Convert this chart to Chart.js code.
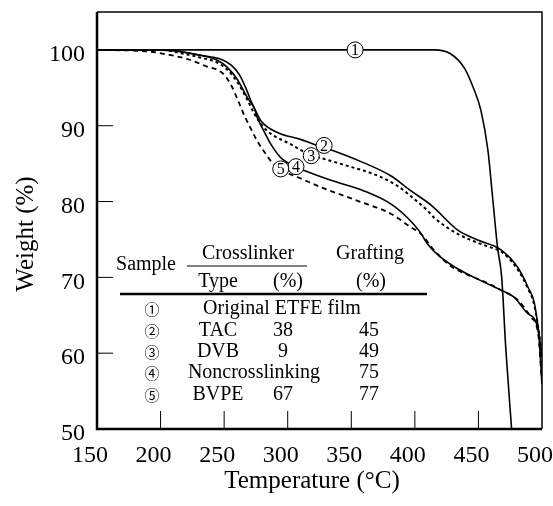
<!DOCTYPE html>
<html>
<head>
<meta charset="utf-8">
<script src="https://cdn.jsdelivr.net/npm/chart.js@4.4.1/dist/chart.umd.min.js"></script>
<style>
  body { margin: 0; background: #fff; }
</style>
</head>
<body>
<canvas id="tgaChart" width="553" height="506"></canvas>
<script>
// TGA curves, temperature (°C) vs weight (%)
const temp1 = [150, 300, 415, 428, 439, 446, 452, 457.5, 461.4, 465, 468.3, 471.6, 476.1];
const weight1 = [100, 100, 100, 99.5, 97.6, 95, 92, 86.7, 80.1, 74, 70, 60.4, 50];

const temp2 = [150, 200, 215, 231, 245, 252.5, 260.4, 268.3, 273.5, 278.7, 292, 310, 323, 336, 360, 381, 397, 413, 434, 450, 468, 481, 489, 494, 499, 500];
const weight2 = [100, 100, 99.8, 99.3, 98.6, 97.7, 96.1, 93.7, 92.4, 90.7, 89.1, 88.2, 87.4, 86.7, 85.1, 83.4, 81.4, 79.5, 76.2, 74.9, 73.6, 71.3, 68.7, 66.6, 60.8, 59.5];

const temp3 = [150, 200, 215, 231, 245, 253, 261, 268, 274, 280, 287, 302, 318, 329, 347, 368, 386, 399, 410, 415, 434, 449, 462, 468, 481, 489, 494, 499, 500];
const weight3 = [100, 100, 99.6, 99.0, 98.3, 97.3, 95.6, 93.5, 91.5, 90, 88.9, 87.6, 86.1, 85.6, 84.7, 83.6, 82.1, 80.4, 78.8, 77.9, 75.7, 74.6, 73.8, 73.4, 71, 68.5, 66.3, 61, 59.5];

const temp4 = [150, 200, 215, 231.5, 247, 255.6, 261.7, 267, 271, 273.5, 276, 281.3, 286.6, 294.5, 307, 313, 334, 360, 381, 394, 404, 410, 420, 434, 449, 468, 478, 489, 497, 500];
const weight4 = [100, 100, 99.8, 99.3, 98.8, 98, 96.8, 95, 93.3, 92.4, 91.1, 89.3, 87.6, 85.8, 84.5, 84.1, 82.8, 81.4, 79.7, 77.9, 76, 74.4, 72.7, 71.1, 69.8, 68.3, 67.4, 65.2, 63, 56];

const temp5 = [150, 190, 205, 221, 235, 249, 255, 261, 266, 271, 276, 281, 287, 294.5, 308, 329, 355, 381, 397, 405, 415, 429, 442, 455, 468, 481, 491, 497, 500];
const weight5 = [100, 99.8, 99.4, 98.8, 97.9, 96.9, 95.5, 93.3, 91.3, 89.6, 88, 86.7, 85.3, 84.2, 83.2, 81.7, 80.1, 78.4, 76.6, 75.7, 73.6, 71.4, 70.3, 69.4, 68.3, 67, 64.8, 62.5, 56];

// circled curve numbers on the plot
const curveTags = ['1', '2', '3', '4', '5'];
const tagTemp = [353, 328.6, 318.5, 306.5, 294.5];
const tagWeight = [100, 87.4, 86.05, 84.6, 84.3];

// inset table
const tableMarks = ['\u2460', '\u2461', '\u2462', '\u2463', '\u2464'];
const tableType = ['Original ETFE film', 'TAC', 'DVB', 'Noncrosslinking', 'BVPE'];
const tableLinker = ['', '38', '9', '', '67'];
const tableGrafting = ['', '45', '49', '75', '77'];

const xTitle = 'Temperature (\u00B0C)';
const yTitle = 'Weight (%)';

function toPoints(xs, ys) {
    return xs.map((x, i) => ({ x: x, y: ys[i] }));
}

const serif = '"Liberation Serif", "Times New Roman", serif';

const framePlugin = {
    id: 'framePlugin',
    afterDraw(chart) {
        const ctx = chart.ctx;
        const a = chart.chartArea;
        const xs = chart.scales.x;
        const ys = chart.scales.y;
        ctx.save();
        ctx.strokeStyle = '#000';
        ctx.fillStyle = '#000';

        // frame
        ctx.lineWidth = 1.5;
        ctx.beginPath();
        ctx.moveTo(a.left, a.top);
        ctx.lineTo(a.right, a.top);
        ctx.lineTo(a.right, a.bottom);
        ctx.stroke();
        ctx.lineWidth = 2.5;
        ctx.beginPath();
        ctx.moveTo(a.left, a.top);
        ctx.lineTo(a.left, a.bottom);
        ctx.lineTo(a.right, a.bottom);
        ctx.stroke();

        // inner tick marks
        ctx.lineWidth = 1;
        [60, 70, 80, 90].forEach(v => {
            const y = ys.getPixelForValue(v);
            ctx.beginPath();
            ctx.moveTo(a.left, y);
            ctx.lineTo(a.left + 16, y);
            ctx.stroke();
        });
        [200, 250, 300, 350, 400, 450].forEach(v => {
            const x = xs.getPixelForValue(v);
            ctx.beginPath();
            ctx.moveTo(x, a.bottom);
            ctx.lineTo(x, a.bottom - 18);
            ctx.stroke();
        });

        // axis titles
        ctx.font = '25px ' + serif;
        ctx.textAlign = 'center';
        ctx.textBaseline = 'middle';
        ctx.fillText(xTitle, 312, 481);
        ctx.save();
        ctx.translate(26, 234);
        ctx.rotate(-Math.PI / 2);
        ctx.fillText(yTitle, 0, 0);
        ctx.restore();

        // curve tags
        curveTags.forEach((t, i) => {
            const x = xs.getPixelForValue(tagTemp[i]);
            const y = ys.getPixelForValue(tagWeight[i]);
            ctx.beginPath();
            ctx.arc(x, y, 8, 0, Math.PI * 2);
            ctx.fillStyle = '#fff';
            ctx.fill();
            ctx.lineWidth = 1;
            ctx.stroke();
            ctx.fillStyle = '#000';
            ctx.font = '16px ' + serif;
            ctx.fillText(t, x, y + 1);
        });

        // table
        ctx.font = '20px ' + serif;
        ctx.fillText('Sample', 146, 265);
        ctx.fillText('Crosslinker', 248, 254);
        ctx.fillText('Grafting', 370, 254);
        ctx.fillText('Type', 218, 282);
        ctx.fillText('(%)', 288, 282);
        ctx.fillText('(%)', 371, 282);
        ctx.lineWidth = 1;
        ctx.beginPath();
        ctx.moveTo(187, 266);
        ctx.lineTo(307, 266);
        ctx.stroke();
        ctx.lineWidth = 2.5;
        ctx.beginPath();
        ctx.moveTo(120, 294);
        ctx.lineTo(427, 294);
        ctx.stroke();

        const rowY = [309, 331, 352, 373, 395];
        rowY.forEach((y, i) => {
            ctx.font = '15px "Noto Sans CJK JP", "DejaVu Sans", sans-serif';
            ctx.fillText(tableMarks[i], 152, y);
            ctx.font = '20px ' + serif;
            if (i === 0) {
                ctx.fillText(tableType[i], 282, y);
            } else if (tableLinker[i] === '') {
                ctx.fillText(tableType[i], 254, y);
            } else {
                ctx.fillText(tableType[i], 218, y);
                ctx.fillText(tableLinker[i], 283, y);
            }
            if (tableGrafting[i]) ctx.fillText(tableGrafting[i], 369, y);
        });
        ctx.restore();
    }
};

const lineBase = {
    borderColor: '#000',
    backgroundColor: '#000',
    fill: false,
    pointRadius: 0,
    cubicInterpolationMode: 'monotone'
};

const config = {
    type: 'line',
    data: {
        datasets: [
            Object.assign({ label: '1', data: toPoints(temp1, weight1), borderWidth: 1.6 }, lineBase),
            Object.assign({ label: '2', data: toPoints(temp2, weight2), borderWidth: 1.6 }, lineBase),
            Object.assign({ label: '3', data: toPoints(temp3, weight3), borderWidth: 2, borderDash: [3, 3] }, lineBase),
            Object.assign({ label: '4', data: toPoints(temp4, weight4), borderWidth: 1.6 }, lineBase),
            Object.assign({ label: '5', data: toPoints(temp5, weight5), borderWidth: 1.8, borderDash: [5, 4] }, lineBase)
        ]
    },
    options: {
        responsive: false,
        animation: false,
        layout: { padding: { top: 12, right: 11, left: 0, bottom: 0 } },
        plugins: { legend: { display: false }, tooltip: { enabled: false } },
        scales: {
            x: {
                type: 'linear',
                min: 150,
                max: 500,
                grid: { display: false, drawTicks: false },
                border: { display: false },
                ticks: { stepSize: 50, color: '#000', font: { family: serif, size: 24 }, padding: 12, labelOffset: -7, maxRotation: 0 },
                afterFit(scale) {
                    scale.height = 77;
                    scale.paddingLeft = 0;
                    scale.paddingRight = 0;
                }
            },
            y: {
                min: 50,
                max: 105,
                grid: { display: false, drawTicks: false },
                border: { display: false },
                ticks: { stepSize: 10, color: '#000', font: { family: serif, size: 24 }, padding: 12, labelOffset: 5 },
                afterBuildTicks(scale) {
                    scale.ticks = scale.ticks.filter(t => t.value <= 100);
                },
                afterFit(scale) {
                    scale.width = 97;
                    scale.paddingTop = 0;
                    scale.paddingBottom = 0;
                }
            }
        }
    },
    plugins: [framePlugin]
};

new Chart(document.getElementById('tgaChart'), config);
</script>
</body>
</html>
